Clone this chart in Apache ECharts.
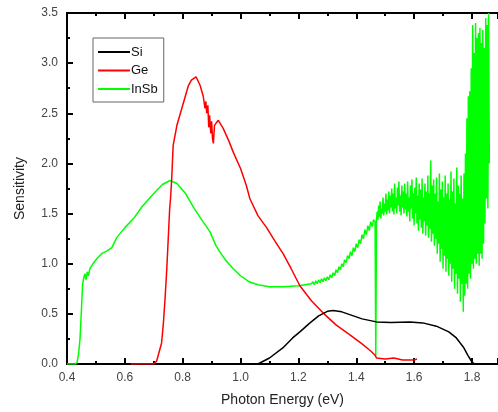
<!DOCTYPE html>
<html><head><meta charset="utf-8">
<script src="https://cdn.jsdelivr.net/npm/echarts@6/dist/echarts.min.js"></script>
<style>html,body{margin:0;padding:0;background:#fff}#c{width:498px;height:412px}</style>
</head><body><div id="c"></div>
<script>
// Si response
const siX = [1.05,1.06,1.10,1.146,1.18,1.205,1.24,1.27,1.30,1.32,1.35,1.38,1.42,1.47,1.52,1.585,1.63,1.677,1.72,1.746,1.77,1.785,1.80,1.81];
const siY = [0,0.0,0.06,0.16,0.26,0.32,0.41,0.48,0.525,0.533,0.52,0.49,0.45,0.42,0.415,0.42,0.41,0.377,0.32,0.26,0.17,0.09,0.02,0];
// Ge response
const geX = [0.62,0.70,0.71,0.727,0.733,0.739,0.745,0.75,0.755,0.758,0.762,0.767,0.78,0.796,0.81,0.819,0.83,0.846,0.86,0.871,0.877,0.880,0.883,0.887,0.890,0.893,0.897,0.900,0.903,0.906,0.910,0.915,0.923,0.94,0.96,0.975,1.0,1.02,1.032,1.06,1.09,1.12,1.147,1.175,1.205,1.245,1.285,1.33,1.378,1.42,1.45,1.464,1.47,1.50,1.53,1.56,1.60,1.61];
const geY = [0,0,0.03,0.21,0.40,0.65,0.95,1.25,1.55,1.65,1.85,2.18,2.38,2.54,2.68,2.77,2.83,2.864,2.78,2.67,2.55,2.62,2.50,2.58,2.36,2.48,2.30,2.42,2.25,2.20,2.38,2.40,2.43,2.35,2.22,2.11,1.95,1.78,1.65,1.48,1.36,1.22,1.10,0.95,0.78,0.63,0.51,0.39,0.29,0.20,0.13,0.09,0.06,0.05,0.06,0.04,0.04,0.05];
// InSb response, smooth part
const insbX = [0.40,0.43,0.435,0.44,0.445,0.45,0.454,0.458,0.462,0.466,0.470,0.474,0.479,0.49,0.503,0.52,0.54,0.555,0.572,0.60,0.63,0.66,0.70,0.73,0.756,0.78,0.81,0.84,0.87,0.894,0.915,0.93,0.95,0.975,1.0,1.03,1.06,1.10,1.15,1.20,1.245];
const insbY = [0.0,0.0,0.02,0.10,0.25,0.55,0.80,0.86,0.90,0.84,0.92,0.88,0.95,1.00,1.05,1.10,1.13,1.16,1.26,1.36,1.45,1.57,1.70,1.79,1.83,1.80,1.70,1.55,1.42,1.32,1.18,1.11,1.03,0.95,0.88,0.82,0.79,0.77,0.77,0.78,0.80];
// InSb fine-noise part: samples from 1.25 eV every 0.005 eV
const insbFineStart = 1.25, insbFineStep = 0.005;
const insbFineY = [0.82,0.79,0.83,0.80,0.84,0.81,0.85,0.82,0.86,0.83,0.87,0.84,0.89,0.86,0.91,0.88,0.94,0.91,0.97,0.94,1.00,0.97,1.04,1.01,1.08,1.05,1.12,1.08,1.16,1.12,1.20,1.16,1.24,1.20,1.29,1.25,1.34,1.29,1.38,1.33,1.42,1.37,1.44];
// glitch
const insbGlitchX = [1.465,1.4675,1.47];
const insbGlitchY = [1.42,0.08,1.45];
// InSb noisy part: samples from 1.4725 eV every 0.0025 eV
const insbNoiseStart = 1.4725, insbNoiseStep = 0.0025;
const insbNoiseY = [
1.52,1.44,1.58,1.47,1.62,1.45,1.55,1.50,1.66,1.48,1.60,1.52,1.70,1.49,1.64,1.53,1.72,1.50,1.68,1.56,
1.75,1.52,1.70,1.49,1.80,1.55,1.66,1.50,1.76,1.58,1.82,1.52,1.68,1.48,1.78,1.56,1.72,1.50,1.80,1.54,
1.70,1.47,1.82,1.52,1.66,1.42,1.78,1.55,1.84,1.45,1.70,1.38,1.76,1.50,1.86,1.40,1.68,1.33,1.80,1.44,
1.74,1.36,1.85,1.30,1.66,1.42,1.80,1.28,1.72,1.38,1.88,1.26,1.70,1.35,2.03,1.22,1.78,1.30,1.84,1.18,
1.70,1.25,1.86,1.10,1.62,1.20,1.90,1.02,1.74,1.15,1.82,0.95,1.66,1.08,1.88,0.92,1.70,1.05,1.80,0.88,
1.64,1.00,1.92,0.82,1.72,0.95,1.85,0.75,1.60,0.90,1.96,0.70,1.78,0.85,1.70,0.62,1.88,0.80,1.65,0.52,
1.90,0.68,2.10,0.80,2.45,0.75,2.67,0.90,2.72,0.85,2.95,1.00,3.38,0.95,3.10,1.05,3.40,1.00,3.25,1.10,
3.30,0.98,3.35,1.10,3.20,1.05,3.33,1.20,3.15,1.40,3.45,1.65,3.38,1.55,3.50,2.00];

const seriesNames = ['Si','Ge','InSb'];
const xTicks = {min:0.4, max:1.89, interval:0.2};
const yTicks = {min:0, max:3.5, interval:0.5};

function pairs(xs, ys){ return xs.map((x,i)=>[x, ys[i]]); }
function grid(start, step, ys){ return ys.map((y,i)=>[+(start+i*step).toFixed(5), y]); }

const siData = pairs(siX, siY);
const geData = pairs(geX, geY);
const insbData = pairs(insbX, insbY)
  .concat(grid(insbFineStart, insbFineStep, insbFineY))
  .concat(pairs(insbGlitchX, insbGlitchY))
  .concat(grid(insbNoiseStart, insbNoiseStep, insbNoiseY));

const font = 'Liberation Sans, Arial, sans-serif';
const axisCommon = {
  axisLine:{show:true, onZero:false, lineStyle:{color:'#000', width:2}},
  axisTick:{show:true, inside:true, length:6, lineStyle:{color:'#000', width:2}},
  minorTick:{show:true, splitNumber:2, length:3, lineStyle:{color:'#000', width:2}},
  splitLine:{show:false}
};

const chart = echarts.init(document.getElementById('c'), null, {renderer:'canvas'});
chart.setOption({
  animation:false,
  backgroundColor:'#fff',
  grid:{left:67, top:13, right:0, bottom:46, containLabel:false},
  legend:{
    data:seriesNames,
    orient:'vertical', left:93, top:38,
    icon:'rect',
    backgroundColor:'#fff', borderColor:'#666', borderWidth:1,
    padding:[7,6,6,5], itemGap:4.5, itemWidth:32, itemHeight:2,
    textStyle:{fontFamily:font, fontSize:13, color:'#111', padding:[0,0,0,-4], lineHeight:14, height:14}
  },
  xAxis:[
    Object.assign({type:'value', position:'bottom', min:xTicks.min, max:xTicks.max, interval:xTicks.interval,
      name:'Photon Energy (eV)', nameLocation:'middle', nameGap:29,
      nameTextStyle:{fontFamily:font, fontSize:14, color:'#222'},
      axisLabel:{fontFamily:font, fontSize:12, color:'#444', margin:8, showMaxLabel:false,
        formatter:v=>v.toFixed(1)}}, axisCommon),
    Object.assign({type:'value', position:'top', min:xTicks.min, max:xTicks.max, interval:xTicks.interval,
      axisLabel:{show:false}}, axisCommon)
  ],
  yAxis:[
    Object.assign({type:'value', position:'left', min:yTicks.min, max:yTicks.max, interval:yTicks.interval,
      name:'Sensitivity', nameLocation:'middle', nameGap:40,
      nameTextStyle:{fontFamily:font, fontSize:14, color:'#222'},
      axisLabel:{fontFamily:font, fontSize:12, color:'#444', margin:9, formatter:v=>v.toFixed(1)}}, axisCommon)
  ],
  series:[
    {name:'InSb', type:'line', data:insbData, symbol:'none', xAxisIndex:0, lineStyle:{color:'#00ff00', width:1.5}, itemStyle:{color:'#00ff00'}, z:2},
    {name:'Ge', type:'line', data:geData, symbol:'none', xAxisIndex:0, lineStyle:{color:'#ff0000', width:1.5}, itemStyle:{color:'#ff0000'}, z:3},
    {name:'Si', type:'line', data:siData, symbol:'none', xAxisIndex:0, lineStyle:{color:'#000', width:1.5}, itemStyle:{color:'#000'}, z:4}
  ]
});
</script></body></html>
